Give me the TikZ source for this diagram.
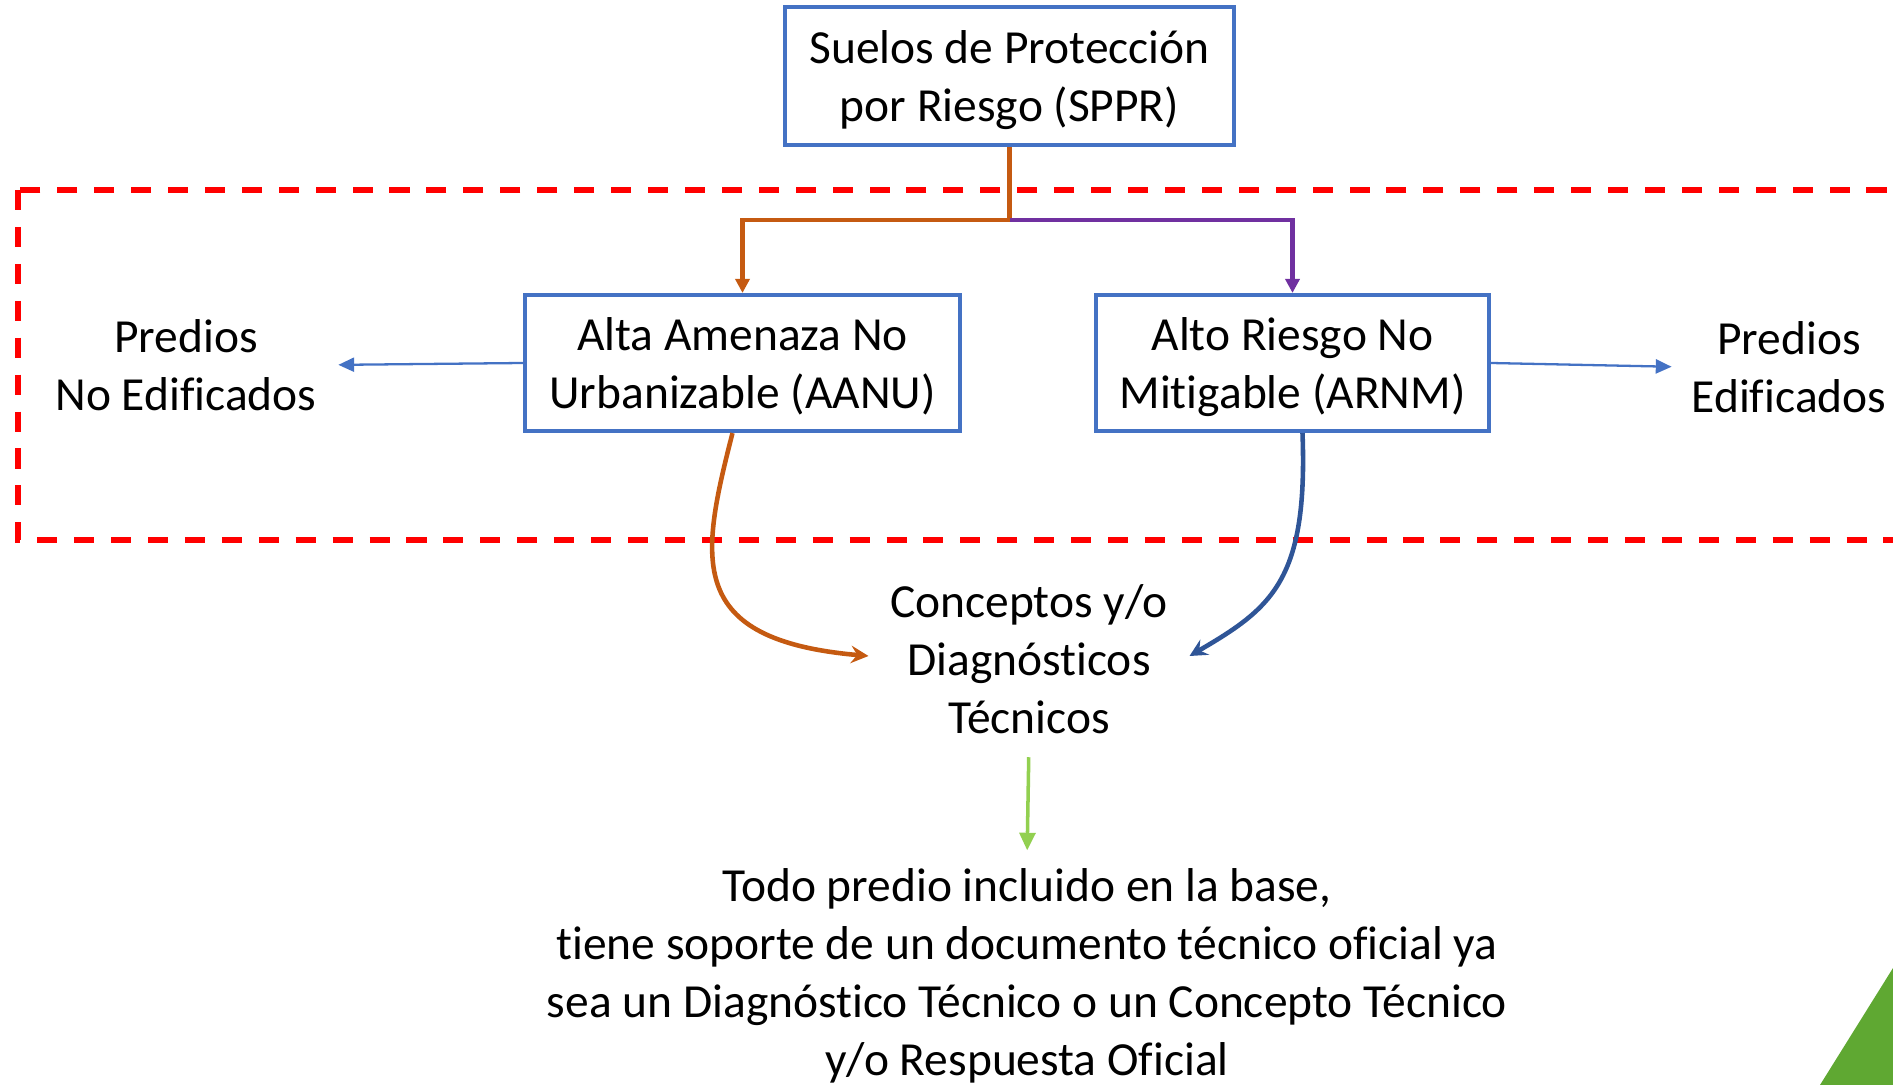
\documentclass[tikz,border=0pt]{standalone}
\usepackage{fontspec}
\setmainfont[Ligatures={NoCommon}, RawFeature={-liga;-clig;-calt;-dlig}]{Carlito}
\usetikzlibrary{arrows.meta,calc}

\definecolor{boxblue}{RGB}{68,114,196}
\definecolor{brorange}{RGB}{197,90,17}
\definecolor{brpurple}{RGB}{112,48,160}
\definecolor{darkblue}{RGB}{47,85,151}
\definecolor{litegreen}{RGB}{146,208,80}
\definecolor{cornergreen}{RGB}{95,168,50}

\newcommand{\boxtext}[2]{\raisebox{-1.5pt}[\height][\depth]{\begin{tabular}{@{}c@{}}#1\\#2\end{tabular}}}

\tikzset{
  box/.style={rectangle, draw=boxblue, line width=1.15pt, align=center, inner sep=0pt},
  label/.style={align=center, inner sep=2pt},
  thinarrow/.style={draw=boxblue, line width=0.65pt, -{Triangle[length=4.5pt,width=4pt]}},
}

\begin{document}
\begin{tikzpicture}[x=0.01cm, y=-0.01cm, font=\fontsize{13.5}{16.5}\selectfont]
    \clip (0,0) rectangle (1893,1085);
    \useasboundingbox (0,0) rectangle (1893,1085);

    % dashed frame
    \draw[red, line width=1.6pt, dash pattern=on 5.7pt off 4.8pt] (18,190) rectangle (1950,540);

    \node(sppr) [box, minimum width=4.49cm, minimum height=1.37cm] at (1009.5,76) {\boxtext{Suelos de Protección}{por Riesgo (SPPR)}};
    \node(aanu) [box, minimum width=4.35cm, minimum height=1.36cm] at (742.5,363) {\boxtext{Alta Amenaza No}{Urbanizable (AANU)}};
    \node(arnm) [box, minimum width=3.93cm, minimum height=1.36cm] at (1292.5,363) {\boxtext{Alto Riesgo No}{Mitigable (ARNM)}};

    \node(noedif) [label] at (186,365) {Predios\\No Edificados};
    \node(edif) [label] at (1789,367) {Predios\\Edificados};
    \node(concep) [label] at (1029,659) {Conceptos y/o\\Diagnósticos\\Técnicos};
    \node(todo) [label] at (1027,976) {Todo predio incluido en la base,\\tiene soporte de un documento técnico oficial ya\\sea un Diagnóstico Técnico o un Concepto Técnico\\y/o Respuesta Oficial};

    \coordinate(split) at (1009.5,220);

    \draw[brorange, line width=1.4pt] (sppr.south) -- (split);
    \draw[brorange, line width=1.4pt, -{Triangle[length=4pt,width=4pt]}] (split) -| (aanu.north);
    \draw[brpurple, line width=1.4pt, -{Triangle[length=4pt,width=4pt]}] (split) -| (arnm.north);

    \draw[thinarrow, shorten >=4pt] (aanu.west) -- (noedif.east);
    \draw[thinarrow, shorten >=3.5pt] (arnm.east) -- (edif.west);

    \draw[brorange, line width=1.3pt, -{Stealth[length=5pt,width=5pt,inset=1.8pt]}]
    ($(aanu.south)+(-10,0)$) .. controls (700,560) and (685,640) .. ($(concep.west)+(-14,-3)$);
    \draw[darkblue, line width=1.3pt, -{Stealth[length=5pt,width=5pt,inset=1.8pt]}]
    ($(arnm.south)+(10,0)$) .. controls (1308,580) and (1272,608) .. ($(concep.east)+(14,-3)$);

    \draw[litegreen, line width=1pt, shorten <=4.5pt, shorten >=3pt, -{Triangle[length=5pt,width=4.5pt]}] (concep.south) -- (todo.north);

    % corner decoration
    \fill[cornergreen] (1820,1085) -- (1893,968) -- (1893,1085) -- cycle;
\end{tikzpicture}
\end{document}
